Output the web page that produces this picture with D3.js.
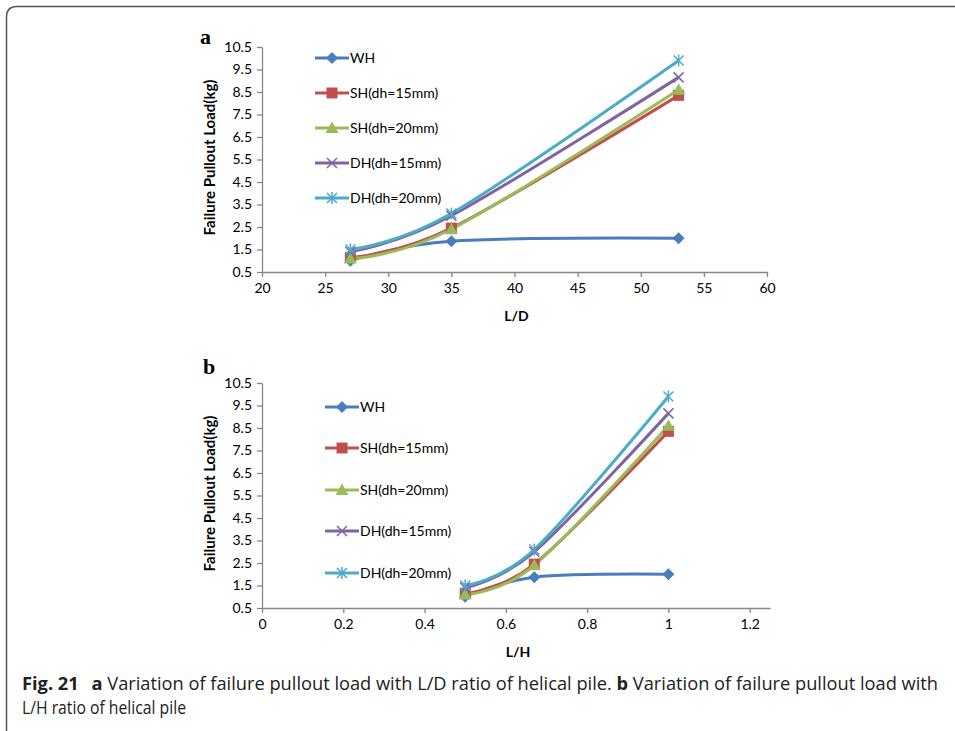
<!DOCTYPE html>
<html>
<head>
<meta charset="utf-8">
<script src="https://cdn.jsdelivr.net/npm/d3@7"></script>
<style>
  body { margin: 0; background: #fff; }
  svg { display: block; }
</style>
</head>
<body>
<script>
const seriesNames = ["WH", "SH(dh=15mm)", "SH(dh=20mm)", "DH(dh=15mm)", "DH(dh=20mm)"];
const ldValues = [27, 35, 53];
const lhValues = [0.5, 0.67, 1.0];
const whLoad = [1.0, 1.87, 2.0];
const sh15Load = [1.15, 2.45, 8.35];
const sh20Load = [1.1, 2.4, 8.6];
const dh15Load = [1.4, 3.0, 9.15];
const dh20Load = [1.5, 3.1, 9.9];
const yTicks = [0.5, 1.5, 2.5, 3.5, 4.5, 5.5, 6.5, 7.5, 8.5, 9.5, 10.5];
const ldTicks = [20, 25, 30, 35, 40, 45, 50, 55, 60];
const lhTicks = [0, 0.2, 0.4, 0.6, 0.8, 1, 1.2];

const loads = [whLoad, sh15Load, sh20Load, dh15Load, dh20Load];
const colors = ["#4a7ebb", "#c0504d", "#9bbb59", "#8064a2", "#4bacc6"];
const markers = ["diamond", "square", "triangle", "x", "star"];

const width = 955;
const height = 731;
const chartFont = "Lato, sans-serif";

const svg = d3
  .select("body")
  .append("svg")
  .attr("width", width)
  .attr("height", height);

// figure frame
svg
  .append("path")
  .attr("d", "M6.5,731 L6.5,17 Q6.5,6.5 17,6.5 L955,6.5")
  .attr("fill", "none")
  .attr("stroke", "#555")
  .attr("stroke-width", 1.5);

const drawMarker = (g, type, color) => {
  if (type === "diamond") {
    g.append("path").attr("d", "M0,-6 L6,0 L0,6 L-6,0 Z").attr("fill", color);
  } else if (type === "square") {
    g.append("rect")
      .attr("x", -5.5).attr("y", -5.5).attr("width", 11).attr("height", 11)
      .attr("fill", color);
  } else if (type === "triangle") {
    g.append("path").attr("d", "M0,-6.5 L6.5,5 L-6.5,5 Z").attr("fill", color);
  } else if (type === "x") {
    g.append("path")
      .attr("d", "M-5,-5 L5,5 M-5,5 L5,-5")
      .attr("stroke", color).attr("stroke-width", 1.5);
  } else {
    g.append("path")
      .attr("d", "M-5,-5 L5,5 M-5,5 L5,-5 M0,-6 L0,6")
      .attr("stroke", color).attr("stroke-width", 1.5);
  }
};

const drawChart = (opts) => {
  const { xValues, xDomain, xTicks, xFormat, left, right, top, bottom, xTitle, panel, panelPos, legend } = opts;

  const xScale = d3.scaleLinear().domain(xDomain).range([left, right]);
  const yScale = d3.scaleLinear().domain([0.5, 10.5]).range([bottom, top]);

  const g = svg.append("g");

  const xAxis = d3.axisBottom(xScale).tickValues(xTicks).tickSize(5).tickSizeOuter(0).tickPadding(6).tickFormat(xFormat);
  const yAxis = d3.axisLeft(yScale).tickValues(yTicks).tickSize(5).tickSizeOuter(0).tickPadding(5).tickFormat(d3.format(".1f"));

  const gx = g.append("g").attr("transform", `translate(0 ${bottom})`).call(xAxis);
  const gy = g.append("g").attr("transform", `translate(${left} 0)`).call(yAxis);

  [gx, gy].forEach((a) => {
    a.selectAll(".domain, line").attr("stroke", "#868686").attr("stroke-width", 1.3);
    a.selectAll("text")
      .attr("font-family", chartFont)
      .attr("font-size", 14)
      .attr("fill", "#000");
  });

  // axis titles
  g.append("text")
    .attr("x", (left + right) / 2 + 2)
    .attr("y", bottom + 49)
    .attr("text-anchor", "middle")
    .attr("font-family", chartFont)
    .attr("font-weight", "bold")
    .attr("font-size", 14)
    .text(xTitle);

  g.append("text")
    .attr("transform", `translate(${left - 47} ${(top + bottom) / 2 - 2}) rotate(-90)`)
    .attr("text-anchor", "middle")
    .attr("font-family", chartFont)
    .attr("font-weight", "bold")
    .attr("font-size", 15)
    .text("Failure Pullout Load(kg)");

  g.append("text")
    .attr("x", panelPos[0])
    .attr("y", panelPos[1])
    .attr("font-family", "'Liberation Serif', serif")
    .attr("font-weight", "bold")
    .attr("font-size", 22)
    .text(panel);

  const line = d3
    .line()
    .x((d, i) => xScale(xValues[i]))
    .y((d) => yScale(d))
    .curve(d3.curveCardinal.tension(0));

  loads.forEach((series, s) => {
    g.append("path")
      .attr("d", line(series))
      .attr("fill", "none")
      .attr("stroke", colors[s])
      .attr("stroke-width", 3);
  });

  loads.forEach((series, s) => {
    series.forEach((v, i) => {
      const m = g.append("g").attr("transform", `translate(${xScale(xValues[i])} ${yScale(v)})`);
      drawMarker(m, markers[s], colors[s]);
    });
  });

  // legend
  seriesNames.forEach((name, s) => {
    const y = legend.y[s];
    g.append("line")
      .attr("x1", legend.x)
      .attr("x2", legend.x + 34)
      .attr("y1", y)
      .attr("y2", y)
      .attr("stroke", colors[s])
      .attr("stroke-width", 3);
    const m = g.append("g").attr("transform", `translate(${legend.x + 17} ${y})`);
    drawMarker(m, markers[s], colors[s]);
    g.append("text")
      .attr("x", legend.x + 35)
      .attr("y", y)
      .attr("dy", "0.35em")
      .attr("font-family", chartFont)
      .attr("font-size", 14)
      .text(name);
  });
};

drawChart({
  xValues: ldValues,
  xDomain: [20, 60],
  xTicks: ldTicks,
  xFormat: d3.format("d"),
  left: 262,
  right: 767,
  top: 47,
  bottom: 272,
  xTitle: "L/D",
  panel: "a",
  panelPos: [200, 44],
  legend: { x: 315, y: [58, 93, 128, 163, 198] },
});

drawChart({
  xValues: lhValues,
  xDomain: [0, 1.25],
  xTicks: lhTicks,
  xFormat: (d) => `${d}`,
  left: 262,
  right: 770,
  top: 383,
  bottom: 608,
  xTitle: "L/H",
  panel: "b",
  panelPos: [203, 374],
  legend: { x: 325, y: [407, 448, 490, 531, 573] },
});

// caption
const cap1 = svg
  .append("text")
  .attr("x", 22)
  .attr("y", 690)
  .attr("font-family", "'Open Sans', sans-serif")
  .attr("font-size", 18)
  .attr("fill", "#222")
  .attr("textLength", 916)
  .attr("lengthAdjust", "spacingAndGlyphs");
cap1.append("tspan").attr("font-weight", "bold").text("Fig. 21");
cap1.append("tspan").attr("font-weight", "bold").attr("dx", 8).text(" a");
cap1.append("tspan").text(" Variation of failure pullout load with L/D ratio of helical pile. ");
cap1.append("tspan").attr("font-weight", "bold").text("b");
cap1.append("tspan").text(" Variation of failure pullout load with");

svg
  .append("text")
  .attr("x", 22)
  .attr("y", 714)
  .attr("font-family", "'Open Sans', sans-serif")
  .attr("font-size", 18)
  .attr("fill", "#222")
  .attr("textLength", 164)
  .attr("lengthAdjust", "spacingAndGlyphs")
  .text("L/H ratio of helical pile");
</script>
</body>
</html>
